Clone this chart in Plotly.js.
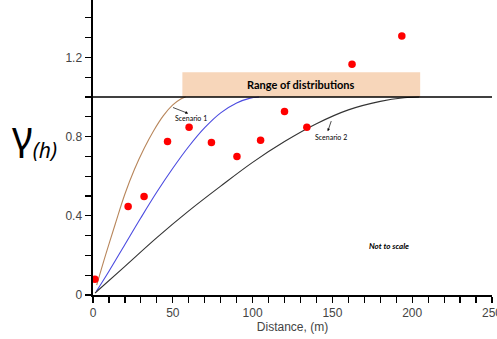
<!DOCTYPE html>
<html>
<head>
<meta charset="utf-8">
<script src="https://cdn.plot.ly/plotly-3.0.1.min.js"></script>
<style>html,body{margin:0;padding:0;background:#fff;}#chart{width:497px;height:339px;}</style>
</head>
<body>
<div id="chart"></div>
<script>
// Experimental semivariogram points
const sampleDistance = [1.2, 22, 32, 46.7, 60.2, 74.2, 90.2, 105, 120, 134, 162.3, 193.5];
const sampleGamma    = [0.08, 0.447, 0.498, 0.775, 0.847, 0.77, 0.70, 0.781, 0.927, 0.847, 1.165, 1.308];

// Model curves
const brownX = [2.3, 8, 14, 20, 26, 32, 38, 44, 50, 55, 58];
const brownY = [0.05, 0.205, 0.36, 0.51, 0.635, 0.74, 0.83, 0.905, 0.96, 0.99, 1.0];
const blueX  = [2, 10, 20, 30, 40, 50, 60, 70, 80, 90, 98, 104];
const blueY  = [0.017, 0.12, 0.255, 0.39, 0.52, 0.64, 0.75, 0.845, 0.92, 0.97, 0.993, 1.0];
const blackX = [1.3, 20, 40, 60, 80, 100, 120, 140, 160, 180, 195, 204.4];
const blackY = [0.01, 0.145, 0.29, 0.425, 0.55, 0.67, 0.775, 0.865, 0.935, 0.978, 0.996, 1.0];

// Sill and range of distributions
const sill = 1.0;
const rangeBox = {x0: 56, x1: 205, y0: 1.0, y1: 1.125};

// Axis ticks
const xTickVals = [0,10,20,30,40,50,60,70,80,90,100,110,120,130,140,150,160,170,180,190,200,210,220,230,240,250];
const xTickText = ['0','','','','','50','','','','','100','','','','','150','','','','','200','','','','','250'];
const yTickVals = [0,0.1,0.2,0.3,0.4,0.5,0.6,0.7,0.8,0.9,1.0,1.1,1.2,1.3,1.4];
const yTickText = ['0','','','','0.4','','','','0.8','','','','1.2','',''];

const lineFont = 'Lato, "Liberation Sans", sans-serif';

const traces = [
  {x: brownX, y: brownY, mode: 'lines', line: {color: '#b8865b', width: 1.1, shape: 'spline', smoothing: 1}, hoverinfo: 'skip'},
  {x: blueX, y: blueY, mode: 'lines', line: {color: '#4b4be0', width: 1.1, shape: 'spline', smoothing: 1}, hoverinfo: 'skip'},
  {x: blackX, y: blackY, mode: 'lines', line: {color: '#333333', width: 1.1, shape: 'spline', smoothing: 1}, hoverinfo: 'skip'},
  {x: sampleDistance, y: sampleGamma, mode: 'markers', marker: {color: '#ff0000', size: 7.5}, cliponaxis: false}
];

const layout = {
  width: 497, height: 339,
  margin: {l: 93, r: 5, t: 0, b: 44, pad: 0},
  paper_bgcolor: '#ffffff', plot_bgcolor: '#ffffff',
  showlegend: false,
  font: {family: '"Liberation Sans", Arial, sans-serif', size: 12, color: '#444'},
  xaxis: {
    range: [0, 250], showgrid: false, zeroline: false,
    showline: true, linecolor: '#000', linewidth: 2,
    ticks: 'outside', ticklen: 6, tickwidth: 1.2, tickcolor: '#000',
    tickmode: 'array', tickvals: xTickVals, ticktext: xTickText,
    ticklabeloverflow: 'allow',
    tickfont: {size: 12, color: '#444'},
    title: {text: 'Distance, (m)', font: {size: 12, color: '#444'}, standoff: 2}
  },
  yaxis: {
    range: [0, 1.49], showgrid: false, zeroline: false,
    showline: true, linecolor: '#000', linewidth: 2.5,
    ticks: 'outside', ticklen: 6, tickwidth: 1.2, tickcolor: '#000',
    tickmode: 'array', tickvals: yTickVals, ticktext: yTickText,
    tickfont: {size: 12, color: '#444'}
  },
  shapes: [
    {type: 'rect', xref: 'x', yref: 'y', x0: rangeBox.x0, x1: rangeBox.x1, y0: rangeBox.y0, y1: rangeBox.y1,
     fillcolor: '#f7d6ba', line: {width: 0}, layer: 'below'},
    {type: 'line', xref: 'x', yref: 'y', x0: 0, x1: 250, y0: sill, y1: sill,
     line: {color: '#000', width: 1.3}}
  ],
  annotations: [
    {xref: 'x', yref: 'y', x: (rangeBox.x0 + rangeBox.x1) / 2, y: (rangeBox.y0 + rangeBox.y1) / 2,
     text: '<b>Range of distributions</b>', showarrow: false,
     font: {family: lineFont, size: 11, color: '#000'}},
    {xref: 'x', yref: 'y', x: 61.6, y: 0.894, text: 'Scenario 1', showarrow: false,
     font: {family: lineFont, size: 7, color: '#000'}},
    {xref: 'x', yref: 'y', x: 59.6, y: 0.917, ax: 49.2, ay: 0.950, axref: 'x', ayref: 'y',
     text: '', showarrow: true, arrowhead: 2, arrowsize: 0.8, arrowwidth: 0.7, arrowcolor: '#000'},
    {xref: 'x', yref: 'y', x: 149.2, y: 0.797, text: 'Scenario 2', showarrow: false,
     font: {family: lineFont, size: 7, color: '#000'}},
    {xref: 'x', yref: 'y', x: 147.1, y: 0.827, ax: 149.6, ay: 0.886, axref: 'x', ayref: 'y',
     text: '', showarrow: true, arrowhead: 2, arrowsize: 0.8, arrowwidth: 0.7, arrowcolor: '#000'},
    {xref: 'x', yref: 'y', x: 185.3, y: 0.245, text: '<b><i>Not to scale</i></b>', showarrow: false,
     font: {family: lineFont, size: 8, color: '#000'}},
    {xref: 'paper', yref: 'paper', x: -0.208, y: 0.54,
     text: 'γ<sub><span style="font-size:21px"><i>(h)</i></span></sub>', showarrow: false,
     xanchor: 'left', yanchor: 'middle',
     font: {family: '"Noto Sans", sans-serif', size: 40, color: '#000'}}
  ]
};

Plotly.newPlot('chart', traces, layout, {displayModeBar: false, staticPlot: true});
</script>
</body>
</html>
